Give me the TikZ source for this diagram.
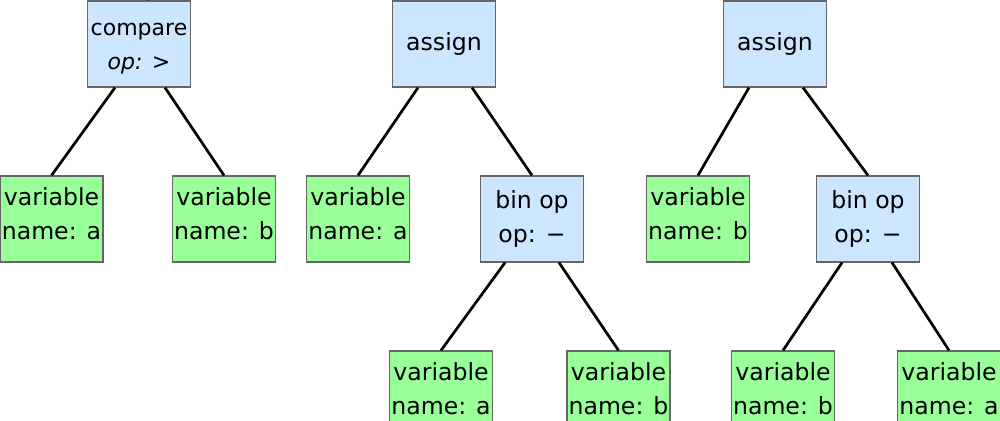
\documentclass[tikz,border=0pt]{standalone}
\usepackage{fontspec}
\setmainfont{DejaVu Sans}
\definecolor{opblue}{RGB}{204,230,255}
\definecolor{vargreen}{RGB}{153,255,153}
\definecolor{boxborder}{RGB}{102,102,102}
\newcommand{\dpstrut}{\rule[-10pt]{0pt}{10pt}}
\tikzset{
  astbox/.style={draw=boxborder, line width=1.2pt, rectangle, inner sep=0pt,
    minimum width=103pt, minimum height=86pt, align=center,
    font=\fontsize{23.6}{34}\selectfont},
  opbox/.style={astbox, fill=opblue},
  varbox/.style={astbox, fill=vargreen},
  edge/.style={draw=black, line width=2.7pt}
}
\begin{document}
\begin{tikzpicture}[x=1pt,y=-1pt]
\useasboundingbox (0,0) rectangle (1000,420);
\begin{scope}
\clip (0,0) rectangle (1000,420);
% top row
\node[opbox, font=\fontsize{22}{34}\selectfont] (cmp) at (139,44) {\rule{0pt}{21pt}compare\\\textit{op:} >};
\node[opbox] (as1) at (444,44) {assign};
\node[opbox] (as2) at (775,44) {assign};
% middle row
\node[varbox] (va1) at (51.5,219) {variable\\name: a\dpstrut};
\node[varbox] (vb1) at (224,219) {variable\\name: b\dpstrut};
\node[varbox] (va2) at (358,219) {variable\\name: a\dpstrut};
\node[opbox] (bo1) at (532,219) {bin op\\op: −};
\node[varbox] (vb2) at (698,219) {variable\\name: b\dpstrut};
\node[opbox] (bo2) at (868,219) {bin op\\op: −};
% bottom row
\node[varbox] (va3) at (441,394) {variable\\name: a\dpstrut};
\node[varbox] (vb3) at (618.5,394) {variable\\name: b\dpstrut};
\node[varbox] (vb4) at (783,394) {variable\\name: b\dpstrut};
\node[varbox] (va4) at (949,394) {variable\\name: a\dpstrut};
% stubs from parents above
\coordinate (p1) at (150,-30);
\coordinate (p2) at (443,-30);
\coordinate (p3) at (776,-30);
\draw[edge] (p1) -- ([xshift=9pt]cmp.north);
\draw[edge] (p2) -- ([xshift=-1pt]as1.north);
\draw[edge] (p3) -- ([xshift=1pt]as2.north);
% connectors
\draw[edge] ([xshift=-24pt]cmp.south) -- (va1.north);
\draw[edge] ([xshift=26pt]cmp.south) -- (vb1.north);
\draw[edge] ([xshift=-26pt]as1.south) -- (va2.north);
\draw[edge] ([xshift=28pt]as1.south) -- (bo1.north);
\draw[edge] ([xshift=-26pt]as2.south) -- (vb2.north);
\draw[edge] ([xshift=28pt]as2.south) -- (bo2.north);
\draw[edge] ([xshift=-27pt]bo1.south) -- (va3.north);
\draw[edge] ([xshift=27pt]bo1.south) -- (vb3.north);
\draw[edge] ([xshift=-26pt]bo2.south) -- (vb4.north);
\draw[edge] ([xshift=24pt]bo2.south) -- (va4.north);
\end{scope}
\end{tikzpicture}
\end{document}
